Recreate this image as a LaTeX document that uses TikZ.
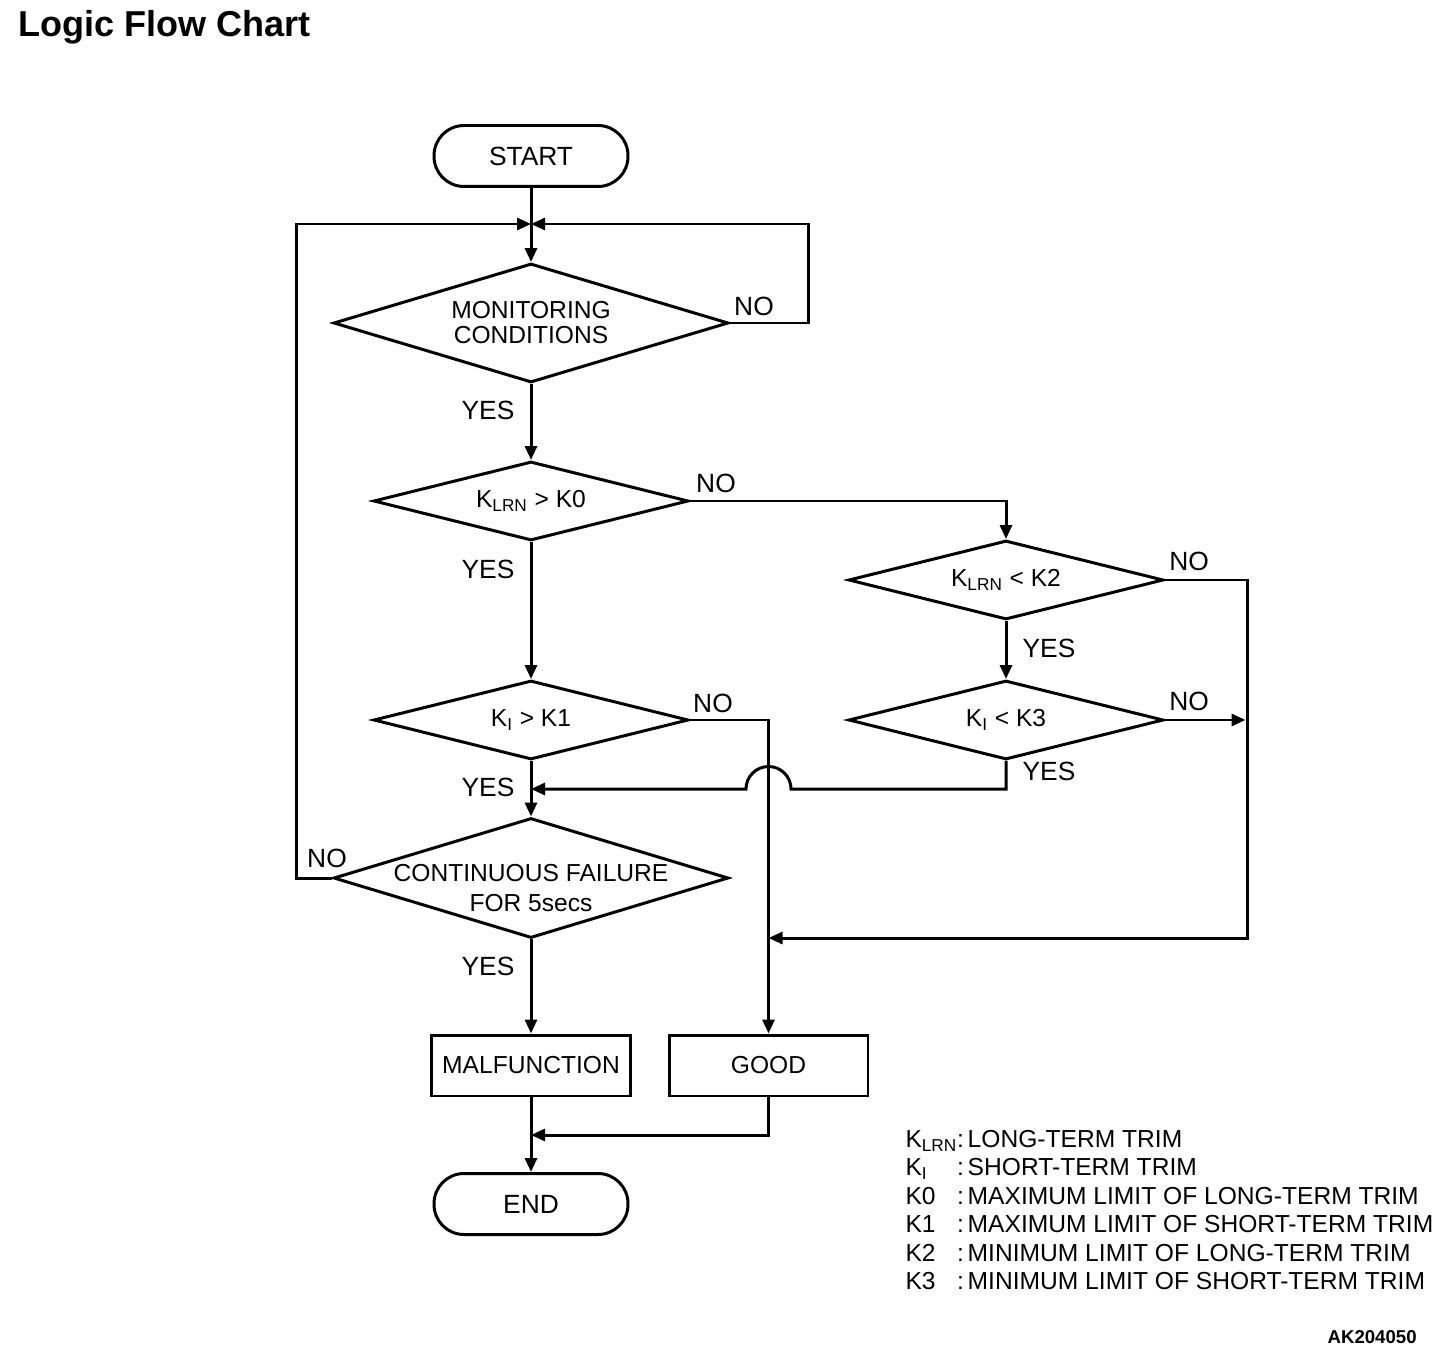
\documentclass[tikz,border=0pt]{standalone}
\usepackage{fontspec}
\setmainfont{Liberation Sans}
\usetikzlibrary{
  arrows.meta,
  positioning,
  shapes.geometric,
}
\tikzset{
  >={Triangle[length=0.28cm,width=0.24cm]},
  terminal/.style={draw,rectangle,rounded corners=0.6cm,minimum width=3.88cm,minimum height=1.22cm,inner sep=0,font=\fontsize{15}{17}\selectfont},
  process/.style={draw,rectangle,minimum width=3.98cm,minimum height=1.22cm,inner sep=0},
  bigdecision/.style={draw,diamond,inner sep=0,minimum width=7.9cm,minimum height=2.38cm},
  decision/.style={draw,diamond,inner sep=0,minimum width=6.3cm,minimum height=1.58cm},
  answer/.style={font=\fontsize{15}{17}\selectfont},
}

\begin{document}
\begin{tikzpicture}[x=0.02cm,y=-0.02cm,line width=1.7pt,font=\fontsize{14}{14.2}\selectfont]

        \useasboundingbox (0,0) rectangle (1456,1358);

        \node[anchor=base west,font=\fontsize{20.5}{24}\selectfont\bfseries]    (title)    at (11,37)    {Logic Flow Chart};

        \node[terminal]    (start)    at (531,156)    {START};
        \coordinate (top) at (531,224);

        \node[bigdecision]    (mon)    at (531,323)    {};
        \node[align=center]    (montext)    at (mon)    {MONITORING\\CONDITIONS};

        \node[decision]    (klrn)    at (531,501)    {};
        \node    (klrntext)    at (klrn)    {K\textsubscript{LRN} > K0};

        \node[decision]    (ki)    at (531,720)    {};
        \node    (kitext)    at (ki)    {K\textsubscript{I} > K1};

        \node[decision]    (klrnk2)    at (1006,580)    {};
        \node    (klrnk2text)    at (klrnk2)    {K\textsubscript{LRN} < K2};

        \node[decision]    (kik3)    at (1006,720)    {};
        \node    (kik3text)    at (kik3)    {K\textsubscript{I} < K3};

        \node[bigdecision,minimum height=2.4cm]    (cont)    at (531,878)    {};
        \node[align=center,yshift=-0.2cm]    (conttext)    at (cont)    {CONTINUOUS FAILURE\\[2.8pt]FOR 5secs};

        \node[process]    (malf)    at (531,1065.5)    {MALFUNCTION};
        \node[process]    (good)    at (768.5,1065.5)    {GOOD};
        \node[terminal]    (end)    at (531,1204)    {END};

        \coordinate (merge) at (531,789);
        \coordinate (right) at (1245.5,720);
        \coordinate (goodin) at (768.5,938);
        \coordinate (endin) at (531,1135);

        % connectors
        \draw[->] (start) -- (mon);
        \draw[->] (mon.east) -- ++(79,0) |- (top);
        \draw[->] (cont.west) -- ++(-36,0) |- (top);
        \draw[->] (mon) -- (klrn);
        \draw[->] (klrn) -- (ki);
        \draw[->] (klrn.east) -| (klrnk2.north);
        \draw[->] (klrnk2) -- (kik3);
        \draw[->] (klrnk2.east) -- ++(82.5,0) |- (goodin);
        \draw[->] (kik3.east) -- (right);
        \draw[->] (ki.east) -| (good.north);
        \draw[->] (kik3.south) -- (kik3.south |- merge) -- (791,789) arc[start angle=0,end angle=180,radius=0.45cm] -- (merge);
        \draw[->] (ki) -- (cont);
        \draw[->] (cont) -- (malf);
        \draw[->] (malf) -- (end);
        \draw[->] (good.south) |- (endin);

        % answers
        \node[answer]    (yes1)    at (488,410)    {YES};
        \node[answer]    (no1)    at (754,306)    {NO};
        \node[answer]    (no2)    at (716,483)    {NO};
        \node[answer]    (yes2)    at (488,569)    {YES};
        \node[answer]    (no3)    at (1189,561)    {NO};
        \node[answer]    (yes3)    at (1049,648)    {YES};
        \node[answer]    (no4)    at (1189,701)    {NO};
        \node[answer]    (yes4)    at (1049,771)    {YES};
        \node[answer]    (no5)    at (713,703)    {NO};
        \node[answer]    (yes5)    at (488,787)    {YES};
        \node[answer]    (no6)    at (327,858)    {NO};
        \node[answer]    (yes6)    at (488,966)    {YES};

        \node[anchor=north west,inner sep=0,font=\fontsize{14}{16.2}\selectfont]    (legend)    at (904,1126)    {%
          \begin{tabular}{@{}l@{}l@{}}
            K\textsubscript{LRN} & :\kern0.15em LONG-TERM TRIM\\
            K\textsubscript{I} & :\kern0.15em SHORT-TERM TRIM\\
            K0 & :\kern0.15em MAXIMUM LIMIT OF LONG-TERM TRIM\\
            K1 & :\kern0.15em MAXIMUM LIMIT OF SHORT-TERM TRIM\\
            K2 & :\kern0.15em MINIMUM LIMIT OF LONG-TERM TRIM\\
            K3 & :\kern0.15em MINIMUM LIMIT OF SHORT-TERM TRIM
          \end{tabular}};

        \node[anchor=base east,font=\fontsize{10.6}{12}\selectfont\bfseries]    (code)    at (1424,1343)    {AK204050};

    \end{tikzpicture}
\end{document}
